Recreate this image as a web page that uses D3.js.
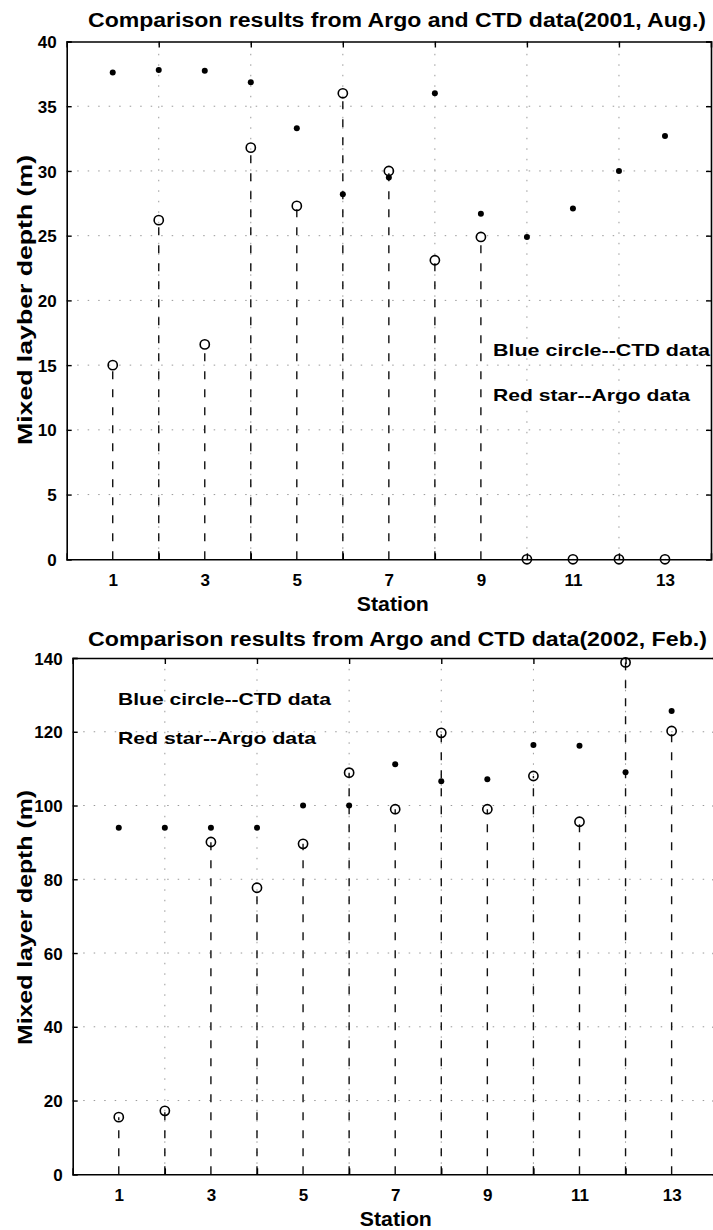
<!DOCTYPE html>
<html><head><meta charset="utf-8">
<script src="https://cdn.jsdelivr.net/npm/d3@7"></script>
<style>
html,body{margin:0;padding:0;background:#fff;}
svg{display:block;}
text{font-family:"Liberation Sans",Arial,Helvetica,sans-serif;font-weight:bold;fill:#000;}
</style></head>
<body>
<script>
// ---- data ----
const stations = [1,2,3,4,5,6,7,8,9,10,11,12,13];
const ctdAug  = [15.0, 26.2, 16.6, 31.8, 27.3, 36.0, 30.0, 23.1, 24.9, 0, 0, 0, 0];
const argoAug = [37.6, 37.8, 37.75, 36.85, 33.3, 28.2, 29.5, 36.0, 26.7, 24.9, 27.1, 30.0, 32.7];
const ctdFeb  = [15.5, 17.2, 90.1, 77.7, 89.6, 108.9, 99.0, 119.7, 99.0, 108.0, 95.6, 138.8, 120.2];
const argoFeb = [94, 94, 94, 94, 100, 100, 111.2, 106.6, 107.1, 116.4, 116.2, 109.0, 125.6];
const xTickLabels = [1,3,5,7,9,11,13];
const xTickMarks = [2,4,6,8,10,12];
const yTicksAug = [0,5,10,15,20,25,30,35,40];
const yTicksFeb = [0,20,40,60,80,100,120,140];
const titleAug = "Comparison results from Argo and CTD data(2001, Aug.)";
const titleFeb = "Comparison results from Argo and CTD data(2002, Feb.)";
const yLabelAug = "Mixed layber depth (m)";
const yLabelFeb = "Mixed layer depth (m)";
const xLabel = "Station";
const legendCTD = "Blue circle--CTD data";
const legendArgo = "Red star--Argo data";

const W = 713, H = 1230;
const svg = d3.select("body").append("svg").attr("width", W).attr("height", H);

function panel(cfg){
  const g = svg.append("g");
  const x = d3.scaleLinear().domain([0,14]).range([cfg.left, cfg.right]);
  const y = d3.scaleLinear().domain([0, cfg.ymax]).range([cfg.bottom, cfg.top]);

  // grid
  g.append("g").selectAll("line").data(cfg.yTicks.filter(v => v>0 && v<cfg.ymax)).join("line")
    .attr("x1", cfg.left).attr("x2", Math.min(cfg.right, W)).attr("y1", d=>y(d)).attr("y2", d=>y(d))
    .attr("stroke", "#999").attr("stroke-width", 1).attr("stroke-dasharray", "1.5,9");
  g.append("g").selectAll("line").data(xTickMarks).join("line")
    .attr("x1", d=>x(d)).attr("x2", d=>x(d)).attr("y1", cfg.bottom).attr("y2", cfg.top)
    .attr("stroke", "#999").attr("stroke-width", 1).attr("stroke-dasharray", "1.5,9");

  // stems (CTD)
  g.append("g").selectAll("line").data(stations).join("line")
    .attr("x1", (d)=>x(d)).attr("x2", (d)=>x(d))
    .attr("y1", y(0)).attr("y2", (d,i)=>y(cfg.ctd[i]))
    .attr("stroke", "#111").attr("stroke-width", 1.4).attr("stroke-dasharray", "8,10");

  // axes
  const yAxL = d3.axisLeft(y).tickValues(cfg.yTicks).tickSize(-5).tickPadding(10).tickFormat(d3.format("d"));
  const gyl = g.append("g").attr("transform", `translate(${cfg.left},0)`).call(yAxL);
  const yAxR = d3.axisRight(y).tickValues(cfg.yTicks).tickSize(-5).tickFormat("");
  const gyr = g.append("g").attr("transform", `translate(${cfg.right},0)`).call(yAxR);
  const xAxB = d3.axisBottom(x).tickValues(xTickMarks).tickSize(-6).tickFormat("");
  const gxb = g.append("g").attr("transform", `translate(0,${cfg.bottom})`).call(xAxB);
  const xAxT = d3.axisTop(x).tickValues(xTickMarks).tickSize(-6).tickFormat("");
  const gxt = g.append("g").attr("transform", `translate(0,${cfg.top})`).call(xAxT);
  const xLab = d3.axisBottom(x).tickValues(xTickLabels).tickSize(0).tickPadding(14);
  const gxl = g.append("g").attr("transform", `translate(0,${cfg.bottom})`).call(xLab);
  gxl.select(".domain").remove();
  [gyl, gyr, gxb, gxt].forEach(a => {
    a.select(".domain").attr("stroke", "#000").attr("stroke-width", 1.6);
    a.selectAll(".tick line").attr("stroke", "#000").attr("stroke-width", 1.4);
  });
  gyl.selectAll(".tick text").attr("font-size", 17).attr("font-family", null).attr("dy", "0.36em");
  gxl.selectAll(".tick text").attr("font-size", 17).attr("font-family", null).attr("dy", "0.72em");

  // markers
  g.append("g").selectAll("circle").data(stations).join("circle")
    .attr("cx", d=>x(d)).attr("cy", (d,i)=>y(cfg.ctd[i])).attr("r", 4.6)
    .attr("fill", "none").attr("stroke", "#000").attr("stroke-width", 1.6);
  g.append("g").selectAll("circle").data(stations).join("circle")
    .attr("cx", d=>x(d)).attr("cy", (d,i)=>y(cfg.argo[i])).attr("r", 3)
    .attr("fill", "#000");

  // texts
  g.append("text").attr("x", cfg.titleX).attr("y", cfg.titleY)
    .attr("font-size", 20).attr("textLength", cfg.titleW).attr("lengthAdjust", "spacingAndGlyphs")
    .text(cfg.title);
  g.append("text").attr("x", (cfg.left + Math.min(cfg.right, 711))/2 + 4).attr("y", cfg.xLabelY)
    .attr("text-anchor", "middle").attr("font-size", 20).attr("textLength", 72).attr("lengthAdjust", "spacingAndGlyphs")
    .text(xLabel);
  g.append("text").attr("transform", `translate(32,${cfg.yLabelEnd}) rotate(-90)`)
    .attr("text-anchor", "end").attr("font-size", 21)
    .attr("textLength", cfg.yLabelW).attr("lengthAdjust", "spacingAndGlyphs")
    .text(cfg.yLabel);
  g.append("text").attr("x", cfg.legX).attr("y", cfg.legY1).attr("font-size", 17)
    .attr("textLength", cfg.legW1).attr("lengthAdjust", "spacingAndGlyphs").text(legendCTD);
  g.append("text").attr("x", cfg.legX).attr("y", cfg.legY2).attr("font-size", 17)
    .attr("textLength", cfg.legW2).attr("lengthAdjust", "spacingAndGlyphs").text(legendArgo);
}

panel({
  left: 66.7, right: 711, top: 41.5, bottom: 559.3, ymax: 40,
  yTicks: yTicksAug, ctd: ctdAug, argo: argoAug,
  title: titleAug, titleX: 88, titleY: 27, titleW: 618,
  xLabelY: 611, yLabel: yLabelAug, yLabelEnd: 155, yLabelW: 290,
  legX: 493, legY1: 356, legY2: 401, legW1: 217, legW2: 197
});
panel({
  left: 72.7, right: 717.7, top: 658, bottom: 1174.3, ymax: 140,
  yTicks: yTicksFeb, ctd: ctdFeb, argo: argoFeb,
  title: titleFeb, titleX: 88, titleY: 646, titleW: 619,
  xLabelY: 1226, yLabel: yLabelFeb, yLabelEnd: 790, yLabelW: 255,
  legX: 118, legY1: 705, legY2: 744, legW1: 213, legW2: 198
});
</script>
</body></html>
